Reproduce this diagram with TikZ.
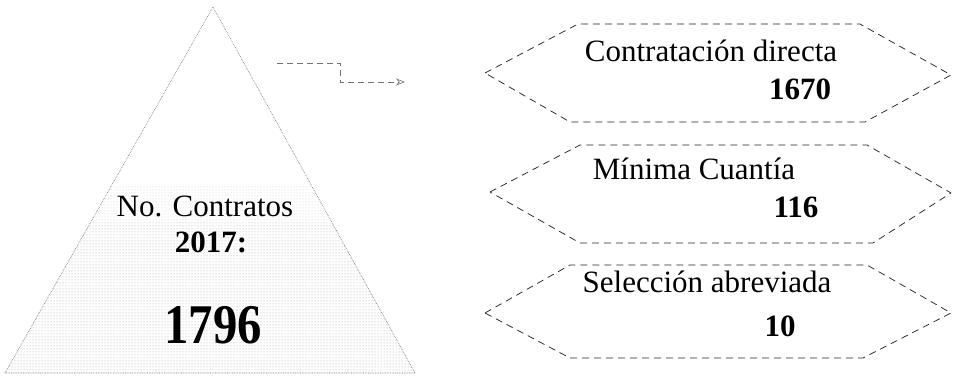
\documentclass[tikz,border=0pt]{standalone}
\usepackage{fontspec}
\setmainfont{Liberation Serif}
\usetikzlibrary{arrows.meta,patterns}
\tikzset{
  hexbox/.style={draw=black!85, line width=0.75pt, dash pattern=on 7pt off 5pt, line join=round},
  tri/.style={draw=black!50, line width=0.7pt, densely dotted},
  lbl/.style={anchor=base, inner sep=0pt, font=\fontsize{31}{31}\selectfont},
  num/.style={anchor=base, inner sep=0pt, font=\fontsize{31}{31}\selectfont\bfseries},
  conn/.style={draw=black!55, line width=0.6pt, dash pattern=on 6pt off 4pt, -{Stealth[open,length=9pt,width=7pt]}}
}
\begin{document}
\begin{tikzpicture}[x=1pt,y=-1pt]
\useasboundingbox (0,0) rectangle (953,379);
% pyramid
\coordinate (apex) at (213,7);
\coordinate (bl) at (5,373);
\coordinate (br) at (415,373);
\begin{scope}
  \clip (apex) -- (br) -- (bl) -- cycle;
  \fill[pattern=dots, pattern color=black!35] (0,222) rectangle (420,373);
  \fill[pattern=dots, pattern color=black!18] (0,186) rectangle (420,222);
\end{scope}
\draw[tri] (apex) -- (br) -- (bl) -- cycle;
\node[lbl] (nc) at (205,217) {No. Contratos};
\node[num] (yr) at (211,253) {2017:};
\node[anchor=base, inner sep=0pt, font=\fontsize{56}{56}\selectfont\bfseries] (tot) at (213,343) {\scalebox{0.87}[1]{1796}};
% connector
\coordinate (c0) at (277,63);
\coordinate (c1) at (340,63);
\coordinate (c2) at (340,82);
\coordinate (c3) at (405,82);
\draw[conn] (c0) -- (c1) -- (c2) -- (c3);
% hexagons
\draw[hexbox] (485,73) -- (578,24) -- (860,24) -- (951,75) -- (865,122) -- (570,122) -- cycle;
\draw[hexbox] (490,192) -- (580,145) -- (867,145) -- (951,193) -- (873,243) -- (580,243) -- cycle;
\draw[hexbox] (485,313) -- (570,265) -- (867,265) -- (951,313) -- (863,358) -- (570,358) -- cycle;
\node[lbl] (t1) at (711,62) {Contratación directa};
\node[num] (n1) at (800,100) {1670};
\node[lbl] (t2) at (694,180) {Mínima Cuantía};
\node[num] (n2) at (796,218) {116};
\node[lbl] (t3) at (707,293) {Selección abreviada};
\node[num] (n3) at (780,337) {10};
\end{tikzpicture}
\end{document}
